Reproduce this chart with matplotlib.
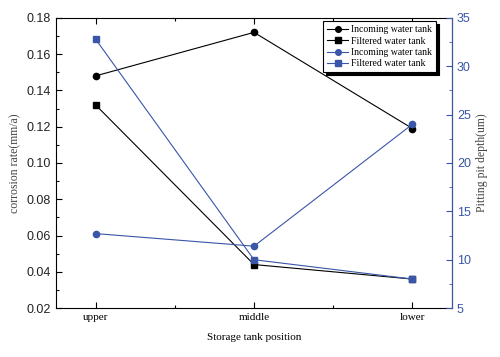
import numpy as np
import matplotlib.pyplot as plt
from matplotlib.ticker import MultipleLocator

# data
positions = ['upper', 'middle', 'lower']
rate_incoming = [0.148, 0.172, 0.119]
rate_filtered = [0.132, 0.044, 0.036]
pit_incoming = [12.7, 11.4, 24.0]
pit_filtered = [32.8, 10.0, 8.0]

blue = '#3a56a8'
serif = 'Liberation Serif'
sans = 'Liberation Sans'

fig = plt.figure(figsize=(5, 3.57), dpi=100)
ax = fig.add_axes([0.112, 0.137, 0.792, 0.813])
ax2 = ax.twinx()

x = np.arange(len(positions))
h1, = ax.plot(x, rate_incoming, color='black', marker='o', ms=4.5, lw=0.8,
              label='Incoming water tank')
h2, = ax.plot(x, rate_filtered, color='black', marker='s', ms=4.5, lw=0.8,
              label='Filtered water tank')
h3, = ax2.plot(x, pit_incoming, color=blue, marker='o', ms=4.5, lw=0.8,
               label='Incoming water tank')
h4, = ax2.plot(x, pit_filtered, color=blue, marker='s', ms=4.5, lw=0.8,
               label='Filtered water tank')

ax.set_xlim(-0.25, 2.25)
ax.set_ylim(0.02, 0.18)
ax2.set_ylim(5, 35)
ax.set_xticks(x)
ax.set_xticklabels(positions, family=serif, fontsize=8)
ax.xaxis.set_minor_locator(MultipleLocator(0.5))
ax.yaxis.set_major_locator(MultipleLocator(0.02))
ax.yaxis.set_minor_locator(MultipleLocator(0.01))
ax2.yaxis.set_major_locator(MultipleLocator(5))
ax2.yaxis.set_minor_locator(MultipleLocator(2.5))

ax.tick_params(axis='both', which='both', direction='in', top=True)
ax.tick_params(axis='both', which='major', length=4, width=0.8)
ax.tick_params(axis='both', which='minor', length=2, width=0.8)
ax.tick_params(axis='x', which='minor', top=True)
ax2.tick_params(axis='y', which='both', direction='in', colors=blue)
ax2.tick_params(axis='y', which='major', length=4)
ax2.tick_params(axis='y', which='minor', length=2)

for lab in ax.get_yticklabels():
    lab.set_family(sans)
    lab.set_fontsize(9)
    lab.set_color('#222222')
for lab in ax2.get_yticklabels():
    lab.set_family(sans)
    lab.set_fontsize(9)
    lab.set_color(blue)
ax.yaxis.set_major_formatter(plt.FormatStrFormatter('%.2f'))

ax2.spines['right'].set_color(blue)
for s in ['left', 'top', 'bottom']:
    ax2.spines[s].set_visible(False)

ax.set_xlabel('Storage tank position', family=serif, fontsize=8, labelpad=8)
ax.set_ylabel('corrosion rate(mm/a)', family=serif, fontsize=8.5, color='#444444')
ax2.set_ylabel('Pitting pit depth(um)', family=serif, fontsize=8.5, color='#444444')

leg = ax2.legend(handles=[h1, h2, h3, h4], loc='upper right',
                 bbox_to_anchor=(0.965, 0.995), prop={'family': serif, 'size': 7},
                 frameon=True, fancybox=False,
                 shadow={'color': 'black', 'alpha': 1}, handlelength=2.2,
                 borderpad=0.4, labelspacing=0.25, handletextpad=0.3,
                 borderaxespad=0.2, markerscale=0.9, framealpha=1)
leg.get_frame().set_edgecolor('black')
leg.get_frame().set_linewidth(0.8)

fig.savefig('out.png', dpi=100)
